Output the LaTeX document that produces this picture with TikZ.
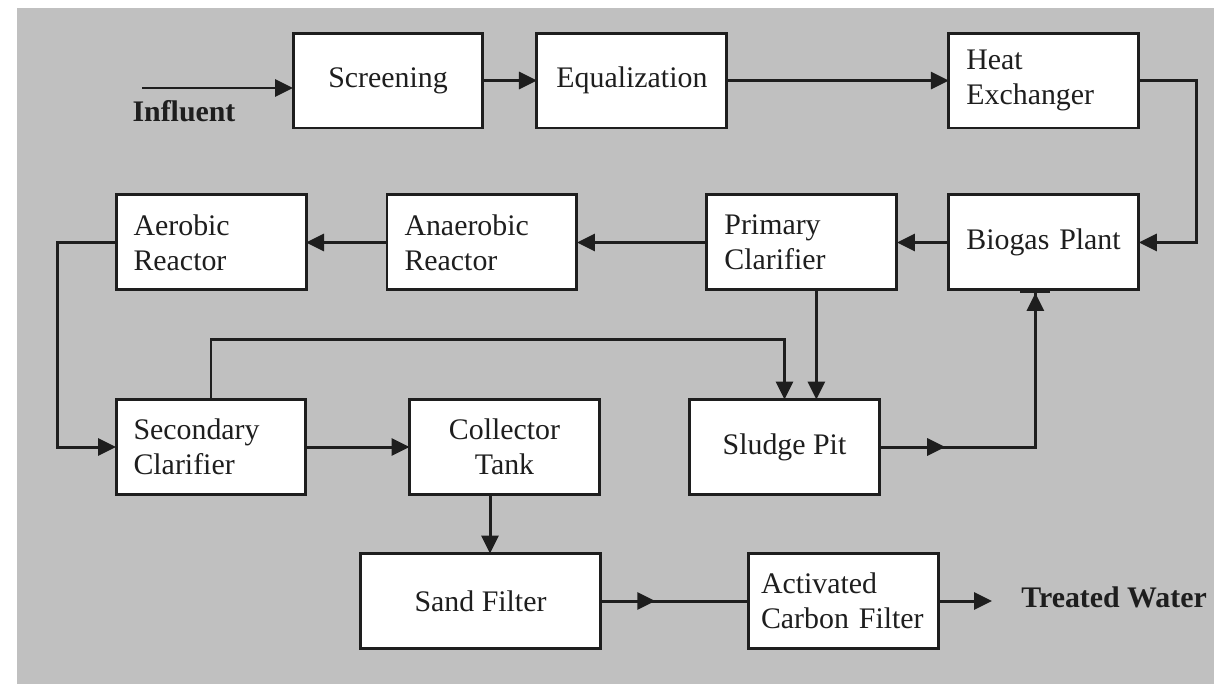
\documentclass[tikz,border=0pt]{standalone}
\usepackage{fontspec}
\setmainfont{Liberation Serif}
\usetikzlibrary{positioning,arrows.meta,decorations.markings}

\definecolor{bggray}{HTML}{C0C0C0}
\definecolor{inkgray}{HTML}{1E1E1E}

\begin{document}
\begin{tikzpicture}[
x=0.02cm, y=-0.02cm,
stagebox/.style={rectangle, draw=inkgray, fill=white, line width=1.7pt, outer sep=0pt, minimum width=3.8cm, minimum height=1.9cm, font=\fontsize{17}{20}\selectfont, text=inkgray, align=center},
leftbox/.style={stagebox, text width=3.1cm, inner xsep=0.35cm, align=left},
flow/.style={draw=inkgray, line width=1.7pt, -{Triangle[length=0.36cm,width=0.34cm]}},
midflow/.style={draw=inkgray, line width=1.7pt, postaction={decorate}, decoration={markings, mark=at position #1 with {\arrow{Triangle[length=0.36cm,width=0.34cm]}}}},
endlabel/.style={font=\bfseries\fontsize{17}{20}\selectfont, text=inkgray, inner sep=0pt}
]
    %Background
    \useasboundingbox (0,0) rectangle (1214,684);
    \fill[bggray] (17,8) rectangle (1214,684);

    %Nodes
    \node[stagebox] (scr) at (388,80.5) {Screening};
    \node[stagebox] (equ) [right=1.08cm of scr] {Equalization};
    \node[leftbox]  (hex) [right=4.44cm of equ] {Heat\\Exchanger};
    \node[leftbox]  (bio) [below=1.34cm of hex] {Biogas Plant};
    \node[leftbox]  (pri) [left=1.04cm of bio] {Primary\\Clarifier};
    \node[leftbox]  (ana) [left=2.6cm of pri] {Anaerobic\\Reactor};
    \node[leftbox]  (aer) [left=1.62cm of ana] {Aerobic\\Reactor};
    \node[leftbox]  (sec) at (211,447) {Secondary\\Clarifier};
    \node[stagebox] (col) at (504.5,447) {Collector\\Tank};
    \node[stagebox] (slu) at (784.5,447) {Sludge Pit};
    \node[stagebox, minimum width=4.8cm] (san) at (480.5,601) {Sand Filter};
    \node[leftbox, text width=3.3cm, inner xsep=0.25cm] (act) at (843.5,601) {Activated\\Carbon Filter};

    \coordinate (inf) at (142,88);
    \node[endlabel] (inflbl) at (184,111) {Influent};
    \node[endlabel, anchor=west] (tw) at (1021,597) {Treated Water};

    %Lines
    \draw[flow] (inf) -- (inf -| scr.west);
    \draw[flow] (scr.east) -- (equ.west);
    \draw[flow] (equ.east) -- (hex.west);
    \draw[flow] (hex.east) -- ++(58,0) |- (bio.east);
    \draw[flow] (bio.west) -- (pri.east);
    \draw[flow] (pri.west) -- (ana.east);
    \draw[flow] (ana.west) -- (aer.east);
    \draw[flow] (aer.west) -- ++(-59,0) |- (sec.west);
    \draw[flow] (sec.east) -- (col.west);
    \draw[flow] (sec.north) -- ++(0,-60) -| (slu.north);
    \draw[flow] ([xshift=0.29cm]pri.south) -- ([xshift=0.29cm]pri.south |- slu.north);
    \draw[midflow=0.21, -{Triangle[length=0.36cm,width=0.34cm] Bar[width=0.6cm]}]
        (slu.east) -| ([xshift=-0.17cm]bio.south);
    \draw[flow] ([xshift=-0.29cm]col.south) -- ([xshift=-0.29cm]col.south |- san.north);
    \draw[midflow=0.37] (san.east) -- (act.west);
    \draw[flow] (act.east) -- ([xshift=-0.58cm]act.east -| tw.west);
\end{tikzpicture}
\end{document}
